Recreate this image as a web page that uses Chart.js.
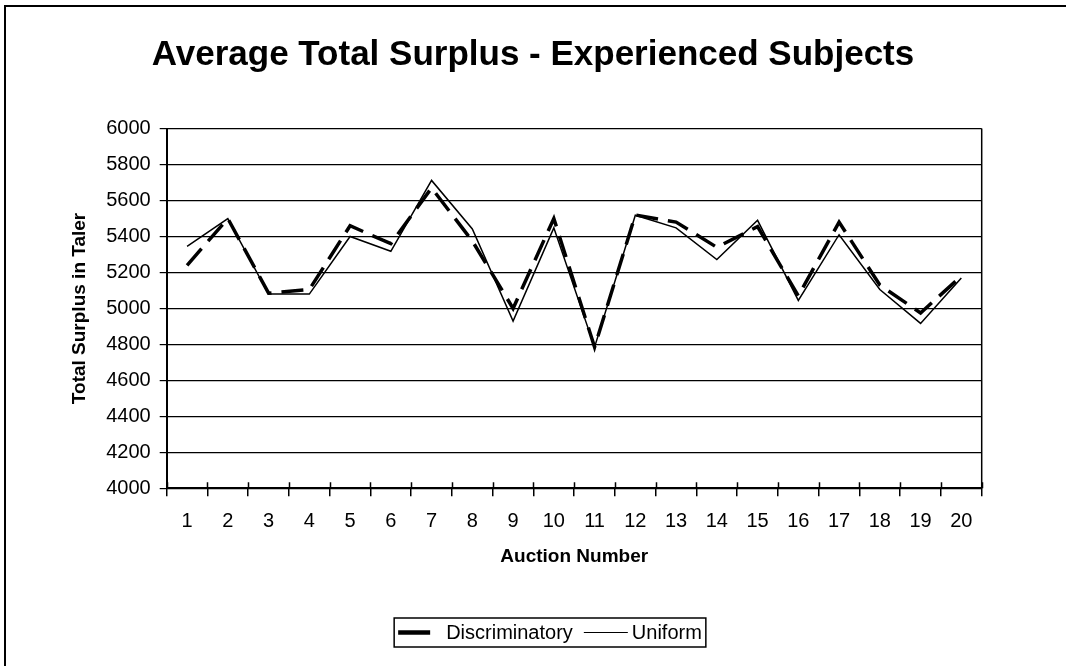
<!DOCTYPE html>
<html>
<head>
<meta charset="utf-8">
<script src="https://cdn.jsdelivr.net/npm/chart.js@4/dist/chart.umd.min.js"></script>
<style>
  html, body { margin: 0; padding: 0; background: #fff; }
  #chart { display: block; }
</style>
</head>
<body>
<canvas id="chart" width="1066" height="666"></canvas>
<script>
// chart data
const chartTitle = "Average Total Surplus - Experienced Subjects";
const auctions = ["1","2","3","4","5","6","7","8","9","10","11","12","13","14","15","16","17","18","19","20"];
const discriminatory = [5240, 5500, 5085, 5105, 5460, 5360, 5670, 5375, 5000, 5500, 4785, 5520, 5480, 5340, 5455, 5070, 5480, 5130, 4975, 5180];
const uniform = [5345, 5500, 5080, 5080, 5400, 5318, 5712, 5442, 4930, 5448, 4785, 5518, 5448, 5272, 5490, 5045, 5410, 5105, 4917, 5170];
const yMin = 4000, yMax = 6000, yStep = 200;

const FONT = "'Liberation Sans', Arial, sans-serif";
Chart.defaults.color = '#000';
Chart.defaults.font.family = FONT;

// frame, title, right edge, inner x ticks and the boxed legend
const extras = {
    id: 'extras',
    afterDraw(chart) {
        const ctx = chart.ctx;
        const area = chart.chartArea;
        const x = chart.scales.x;
        ctx.save();

        // outer frame (only left and top visible)
        ctx.strokeStyle = '#000';
        ctx.lineWidth = 2;
        ctx.strokeRect(5, 6, 1200, 800);

        // title
        ctx.fillStyle = '#000';
        ctx.font = 'bold 35px ' + FONT;
        ctx.textAlign = 'center';
        ctx.textBaseline = 'middle';
        ctx.fillText(chartTitle, 533, 55);

        // right edge of the plot
        ctx.lineWidth = 1.5;
        ctx.beginPath();
        ctx.moveTo(area.right, area.top);
        ctx.lineTo(area.right, area.bottom);
        ctx.stroke();

        // tick marks crossing into the plot
        ctx.lineWidth = 1.5;
        const half = (x.getPixelForValue(1) - x.getPixelForValue(0)) / 2;
        ctx.beginPath();
        for (let i = 0; i <= auctions.length; i++) {
            const px = Math.round(x.getPixelForValue(i) - half) + 0.5;
            ctx.moveTo(px, area.bottom - 6);
            ctx.lineTo(px, area.bottom);
        }
        ctx.stroke();

        // legend
        ctx.font = '20px ' + FONT;
        ctx.textAlign = 'left';
        const samples = [32, 44];
        const gapAfterSample = [16, 4];
        const gapAfterText = 11;
        const pad = 4;
        let total = pad * 2;
        chart.data.datasets.forEach((ds, i) => {
            total += samples[i] + gapAfterSample[i] + ctx.measureText(ds.label).width;
            if (i < chart.data.datasets.length - 1) total += gapAfterText;
        });
        const cx = 550, cy = 632.5, h = 29;
        let lx = cx - total / 2;
        ctx.fillStyle = '#fff';
        ctx.fillRect(lx, cy - h / 2, total, h);
        ctx.strokeStyle = '#000';
        ctx.lineWidth = 1.5;
        ctx.strokeRect(lx, cy - h / 2, total, h);
        lx += pad;
        chart.data.datasets.forEach((ds, i) => {
            ctx.lineWidth = i === 0 ? 4.5 : 1.2;
            ctx.beginPath();
            ctx.moveTo(lx, cy);
            ctx.lineTo(lx + samples[i], cy);
            ctx.stroke();
            lx += samples[i] + gapAfterSample[i];
            ctx.fillStyle = '#000';
            ctx.fillText(ds.label, lx, cy + 1);
            lx += ctx.measureText(ds.label).width + gapAfterText;
        });

        ctx.restore();
    }
};

const chart = new Chart(document.getElementById('chart'), {
    type: 'line',
    data: {
        labels: auctions,
        datasets: [{
            label: 'Discriminatory',
            data: discriminatory,
            borderColor: '#000',
            borderWidth: 3.5,
            borderDash: [22, 10],
            borderCapStyle: 'butt',
            pointRadius: 0,
            tension: 0,
            fill: false
        }, {
            label: 'Uniform',
            data: uniform,
            borderColor: '#000',
            borderWidth: 1.5,
            pointRadius: 0,
            tension: 0,
            fill: false
        }]
    },
    options: {
        responsive: false,
        animation: false,
        events: [],
        layout: {
            padding: { top: 128.6, left: 0, right: 84.3, bottom: 77.7 }
        },
        plugins: {
            legend: { display: false },
            title: { display: false },
            tooltip: { enabled: false }
        },
        scales: {
            x: {
                offset: true,
                grid: {
                    display: true,
                    offset: true,
                    drawOnChartArea: false,
                    drawTicks: true,
                    tickLength: 8,
                    color: '#000',
                    lineWidth: 1.5
                },
                border: { display: true, color: '#000', width: 2 },
                ticks: {
                    font: { size: 20 },
                    color: '#000',
                    padding: 13,
                    maxRotation: 0,
                    autoSkip: false
                },
                title: {
                    display: true,
                    text: 'Auction Number',
                    font: { size: 19, weight: 'bold' },
                    color: '#000',
                    padding: { top: 0, bottom: 20 }
                },
                afterFit(scale) { scale.height = 100; }
            },
            y: {
                min: yMin,
                max: yMax,
                grid: {
                    color: '#000',
                    lineWidth: 1.2,
                    drawTicks: true,
                    tickLength: 7
                },
                border: { display: true, color: '#000', width: 2 },
                ticks: {
                    stepSize: yStep,
                    font: { size: 20 },
                    color: '#000',
                    padding: 9,
                    callback: (v) => String(v)
                },
                title: {
                    display: true,
                    text: 'Total Surplus in Taler',
                    font: { size: 19, weight: 'bold' },
                    color: '#000',
                    padding: { top: 68, bottom: 0 }
                },
                afterFit(scale) { scale.width = 166.7; }
            }
        }
    },
    plugins: [extras]
});
</script>
</body>
</html>
